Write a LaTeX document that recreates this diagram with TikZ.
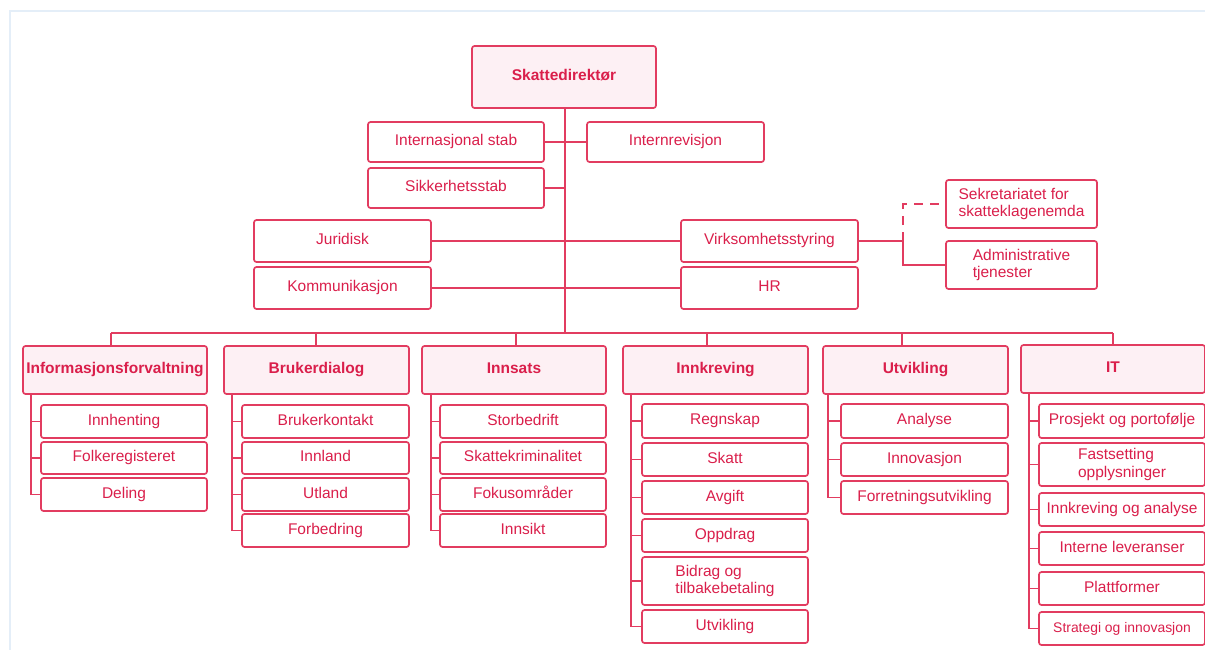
\documentclass[tikz,border=0pt]{standalone}
\usepackage{fontspec}
\setmainfont{Liberation Sans}
\definecolor{skline}{HTML}{E23C60}
\definecolor{sktext}{HTML}{DA1F4B}
\definecolor{skfill}{HTML}{FDF0F4}
\definecolor{skframe}{HTML}{E4EEF8}
\tikzset{
  unit/.style={draw=skline, line width=1.7pt, rounded corners=2.5pt, text=sktext,
    inner sep=0pt, outer sep=0pt, font=\fontsize{15.5}{17.5}\selectfont},
  headbox/.style={unit, fill=skfill, font=\fontsize{15.5}{17.5}\selectfont\bfseries},
  subbox/.style={unit, fill=white},
  oneline/.style={text height=11.2pt, text depth=3.4pt},
  multi/.style={align=left},
  conn/.style={draw=skline, line width=1.7pt},
}
% \orgbox[style]{name}{x1}{y1}{x2}{y2}{text}: one-line box from corner to corner
\newcommand{\orgbox}[7][]{%
  \node[subbox,oneline,#1,minimum width={#5-#3},minimum height={#6-#4}] (#2)
    at ({(#3+#5)/2},{(#4+#6)/2}) {#7};}
% \orgboxm: same, for text set on two lines
\newcommand{\orgboxm}[7][]{%
  \node[subbox,multi,#1,minimum width={#5-#3},minimum height={#6-#4}] (#2)
    at ({(#3+#5)/2},{(#4+#6)/2}) {#7};}
\begin{document}
\begin{tikzpicture}[x=1pt,y=-1pt]
\useasboundingbox (0,0) rectangle (1205,650);
% page frame
\draw[skframe, line width=1.2pt] (1210,11) -- (10,11) -- (10,660);

% top management
\orgbox[headbox]{sd}{472}{46}{656}{108}{Skattedirektør}
\orgbox{is}{368}{122}{544}{162}{Internasjonal stab}
\orgbox{ir}{587}{122}{764}{162}{Internrevisjon}
\orgbox{ss}{368}{168}{544}{208}{Sikkerhetsstab}
\orgbox{jur}{254}{220}{431}{262}{Juridisk}
\orgbox{vs}{681}{220}{858}{262}{Virksomhetsstyring}
\orgbox{kom}{254}{267}{431}{309}{Kommunikasjon}
\orgbox{hr}{681}{267}{858}{309}{HR}
\orgboxm{sek}{946}{180}{1097}{228}{Sekretariatet for\\skatteklagenemda}
\orgboxm{adm}{946}{241}{1097}{289}{Administrative\\tjenester}

% divisions
\orgbox[headbox]{h1}{23}{346}{207}{394}{Informasjonsforvaltning}
\orgbox[headbox]{h2}{224}{346}{409}{394}{Brukerdialog}
\orgbox[headbox]{h3}{422}{346}{606}{394}{Innsats}
\orgbox[headbox]{h4}{623}{346}{808}{394}{Innkreving}
\orgbox[headbox]{h5}{823}{346}{1008}{394}{Utvikling}
\orgbox[headbox]{h6}{1021}{345}{1205}{393}{IT}

% Informasjonsforvaltning
\orgbox{a1}{41}{405}{207}{438}{Innhenting}
\orgbox{a2}{41}{442}{207}{474}{Folkeregisteret}
\orgbox{a3}{41}{478}{207}{511}{Deling}
% Brukerdialog
\orgbox{b1}{242}{405}{409}{438}{Brukerkontakt}
\orgbox{b2}{242}{442}{409}{474}{Innland}
\orgbox{b3}{242}{478}{409}{511}{Utland}
\orgbox{b4}{242}{514}{409}{547}{Forbedring}
% Innsats
\orgbox{c1}{440}{405}{606}{438}{Storbedrift}
\orgbox{c2}{440}{442}{606}{474}{Skattekriminalitet}
\orgbox{c3}{440}{478}{606}{511}{Fokusområder}
\orgbox{c4}{440}{514}{606}{547}{Innsikt}
% Innkreving
\orgbox{d1}{642}{404}{808}{438}{Regnskap}
\orgbox{d2}{642}{443}{808}{476}{Skatt}
\orgbox{d3}{642}{481}{808}{514}{Avgift}
\orgbox{d4}{642}{519}{808}{552}{Oppdrag}
\orgboxm{d5}{642}{557}{808}{605}{Bidrag og\\tilbakebetaling}
\orgbox{d6}{642}{610}{808}{643}{Utvikling}
% Utvikling
\orgbox{e1}{841}{404}{1008}{438}{Analyse}
\orgbox{e2}{841}{443}{1008}{476}{Innovasjon}
\orgbox{e3}{841}{481}{1008}{514}{Forretningsutvikling}
% IT
\orgbox{f1}{1039}{404}{1205}{438}{Prosjekt og portofølje}
\orgboxm{f2}{1039}{443}{1205}{486}{Fastsetting\\opplysninger}
\orgbox{f3}{1039}{493}{1205}{526}{Innkreving og analyse}
\orgbox{f4}{1039}{532}{1205}{565}{Interne leveranser}
\orgbox{f5}{1039}{572}{1205}{605}{Plattformer}
\orgbox[font=\fontsize{13.9}{16}\selectfont]{f6}{1039}{612}{1205}{645}{Strategi og innovasjon}

% main trunk and staff lines
\coordinate (trunk) at (565,333);
\draw[conn] (sd.south -| trunk) -- (trunk);
\draw[conn] (is.east) -- (ir.west);
\draw[conn] (ss.east) -- (ss.east -| trunk);
\draw[conn] (jur.east) -- (vs.west);
\draw[conn] (kom.east) -- (hr.west);

% Virksomhetsstyring side branch
\coordinate (vj) at (903,241);
\draw[conn] (vs.east) -- (vj);
\draw[conn] (vj) |- (adm.west);
\draw[conn, dash pattern=on 9pt off 7pt] (vj) |- (sek.west);

% division bus
\coordinate (p1) at (111,333);
\coordinate (p2) at (316,333);
\coordinate (p3) at (516,333);
\coordinate (p4) at (707,333);
\coordinate (p5) at (902,333);
\coordinate (p6) at (1113,333);
\draw[conn] (p1) -- (p6);
\foreach \i in {1,...,6}{\draw[conn] (p\i) -- (p\i |- h\i.north);}

% column spines
\coordinate (s1) at (31,394);
\coordinate (s2) at (232,394);
\coordinate (s3) at (431,394);
\coordinate (s4) at (631,394);
\coordinate (s5) at (828,394);
\coordinate (s6) at (1029,393);
\draw[conn] (s1) |- (a3.west);
\foreach \n in {a1,a2}{\draw[conn] (s1 |- \n.west) -- (\n.west);}
\draw[conn] (s2) |- (b4.west);
\foreach \n in {b1,b2,b3}{\draw[conn] (s2 |- \n.west) -- (\n.west);}
\draw[conn] (s3) |- (c4.west);
\foreach \n in {c1,c2,c3}{\draw[conn] (s3 |- \n.west) -- (\n.west);}
\draw[conn] (s4) |- (d6.west);
\foreach \n in {d1,d2,d3,d4,d5}{\draw[conn] (s4 |- \n.west) -- (\n.west);}
\draw[conn] (s5) |- (e3.west);
\foreach \n in {e1,e2}{\draw[conn] (s5 |- \n.west) -- (\n.west);}
\draw[conn] (s6) |- (f6.west);
\foreach \n in {f1,f2,f3,f4,f5}{\draw[conn] (s6 |- \n.west) -- (\n.west);}
\end{tikzpicture}
\end{document}
